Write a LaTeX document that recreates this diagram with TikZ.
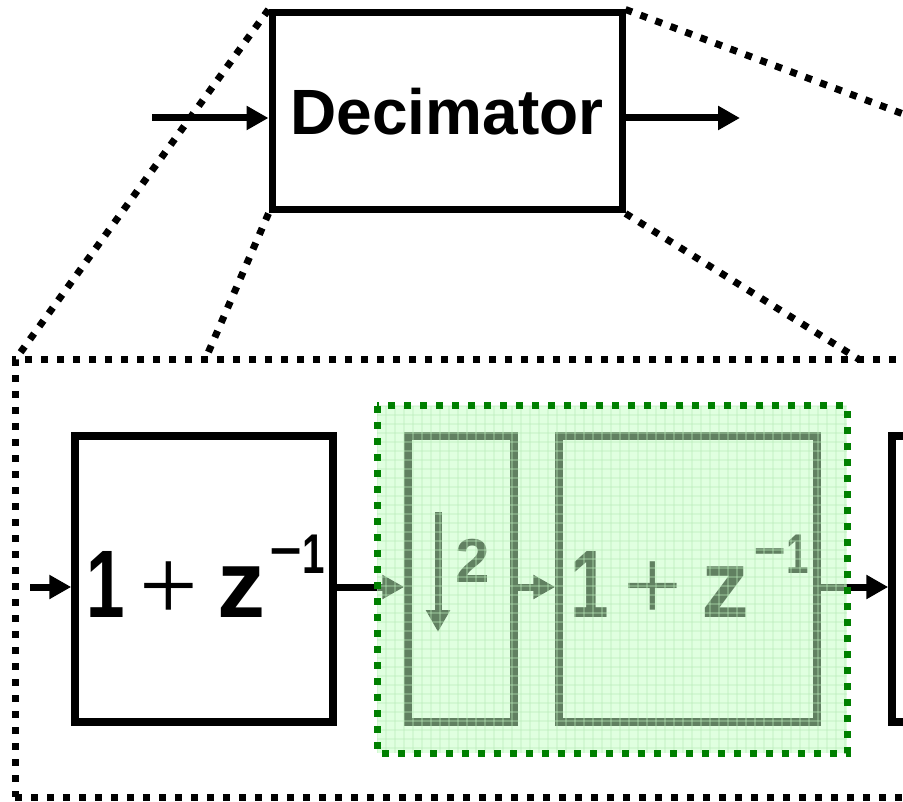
\documentclass[tikz,border=0pt]{standalone}
\usepackage{fontspec}
\setmainfont{Liberation Sans}
\newfontfamily\plusfont{Liberation Serif}
\usetikzlibrary{arrows.meta}
\definecolor{ovfill}{RGB}{194,255,194}
\definecolor{ovgrid}{RGB}{185,235,185}
\definecolor{dkgreen}{RGB}{0,128,0}
\tikzset{
  blk/.style={draw=black, line width=7.5pt, fill=white, inner sep=0pt, minimum width=258pt, minimum height=286pt},
  dots/.style={line width=7pt, dash pattern=on 7pt off 9pt},
  arr/.style={line width=7pt, -{Triangle[length=22pt,width=23pt]}},
  gl/.style={inner sep=0pt, outer sep=0pt},
  bigd/.style={gl, anchor=base, font=\fontsize{96}{96}\selectfont\bfseries},
  supd/.style={gl, anchor=base, font=\fontsize{56}{56}\selectfont\bfseries},
  plusg/.style={gl, anchor=center, font=\fontsize{104}{104}\selectfont\plusfont},
  dashg/.style={gl, anchor=center, font=\fontsize{56}{56}\selectfont\bfseries},
}
% #1 = name prefix, #2 = left edge x of the box
\newcommand{\zexpr}[2]{%
  \node[bigd]  (#1one)  at (#2+30.5,617) {\scalebox{0.72}[1]{1}};
  \node[plusg] (#1plus) at (#2+94,591) {+};
  \node[bigd]  (#1z)    at (#2+166,617) {z};
  \node[dashg] (#1min)  at (#2+211,558) {–};
  \node[supd]  (#1sup)  at (#2+239,573) {\scalebox{0.72}[1]{1}};
}
\begin{document}
\begin{tikzpicture}[x=1pt,y=-1pt]
\useasboundingbox (0,0) rectangle (903,802);
\clip (0,0) rectangle (903,802);
% decimator
\node[draw, line width=7pt, fill=white, minimum width=350pt, minimum height=197pt, inner sep=0pt,
      font=\fontsize{64}{64}\selectfont\bfseries] (dec) at (447,111.5) {Decimator};
\coordinate (din) at (152,118);
\coordinate (dout) at (740,118);
\draw[arr] (din) -- (din -| dec.west);
\draw[arr] (dec.east |- dout) -- (dout);
% big zoom frame
\node[draw, dots, minimum width=1542pt, minimum height=437pt, inner sep=0pt, outer sep=0pt] (big) at (786,578.5) {};
\coordinate (bl) at (205,360);
\coordinate (br) at (860,360);
\draw[dots] (dec.north west) -- (big.north west);
\draw[dots] (dec.south west) -- (bl);
\draw[dots] (dec.south east) -- (br);
\draw[dots] (dec.north east) -- (big.north east);
% lower chain
\node[blk] (b1) at (204,579) {};
\node[blk, minimum width=106pt] (ds) at (461,579) {};
\node[blk] (b2) at (688,579) {};
\node[blk] (b3) at (1021,579) {};
\zexpr{ta}{75}
\zexpr{tb}{559}
\coordinate (in) at (30,587);
\draw[arr] (in) -- (in -| b1.west);
\draw[arr] (b1.east |- in) -- (ds.west |- in);
\draw[arr] (ds.east |- in) -- (b2.west |- in);
\draw[arr] (b2.east |- in) -- (b3.west |- in);
\coordinate (dtop) at (438,512);
\coordinate (dbot) at (438,632);
\draw[arr] (dtop) -- (dbot);
\node[font=\fontsize{62}{62}\selectfont\bfseries, inner sep=0pt] (two) at (473,560.5) {2};
% green overlay
\node[fill=ovfill, fill opacity=0.5, minimum width=470pt, minimum height=347pt, inner sep=0pt, outer sep=0pt] (grn) at (612,579.5) {};
\begin{scope}
  \clip (grn.north west) rectangle (grn.south east);
  \foreach \i in {0,...,53} {
    \draw[ovgrid, line width=1.2pt, opacity=0.35] (377+\i*9,406) -- ++(0,347);
  }
  \foreach \i in {0,...,39} {
    \draw[ovgrid, line width=1.2pt, opacity=0.35] (377,406+\i*9) -- ++(470,0);
  }
\end{scope}
\draw[dkgreen, dots] (grn.north west) rectangle (grn.south east);
\end{tikzpicture}
\end{document}
